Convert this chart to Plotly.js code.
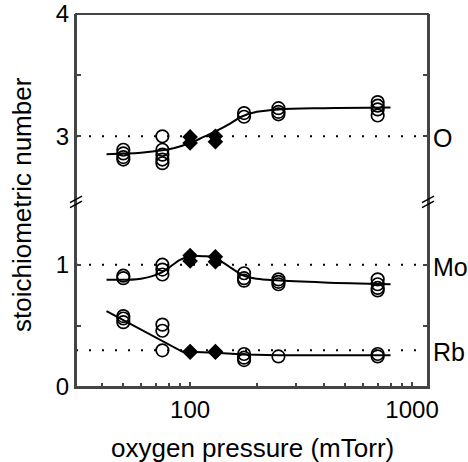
<!DOCTYPE html>
<html>
<head>
<meta charset="utf-8">
<script src="https://cdn.plot.ly/plotly-3.0.1.min.js"></script>
<style>html,body{margin:0;padding:0;background:#fff;}#chart{width:468px;height:462px;}</style>
</head>
<body>
<div id="chart"></div>
<script>
// ---- data ----
const xTickVals = [100, 1000];
const xTickText = ['100', '1000'];
const xMinorTicks = [40, 50, 60, 70, 80, 90, 200, 300, 400, 500, 600, 700, 800, 900];
const yLowTickVals = [0, 0.5, 1];
const yLowTickText = ['0', '', '1'];
const yHighTickVals = [3, 3.5, 4];
const yHighTickText = ['3', '', '4'];
const xLimits = [30.6, 1180];

const elementNames = ['O', 'Mo', 'Rb'];
const referenceLevels = [3, 1, 0.3];

// oxygen (O)
const oCircleX = [50, 50, 50, 50, 75, 75, 75, 75, 75, 175, 175, 250, 250, 250, 700, 700, 700, 700];
const oCircleY = [2.89, 2.86, 2.83, 2.81, 3.00, 2.89, 2.85, 2.81, 2.78, 3.19, 3.16, 3.23, 3.20, 3.18, 3.28, 3.25, 3.22, 3.17];
const diamondX = [100, 100, 130, 130];
const oDiamondY = [2.995, 2.945, 3.0, 2.955];
const oFitX = [42, 60, 75, 85, 100, 115, 130, 150, 170, 200, 250, 400, 800];
const oFitY = [2.853, 2.865, 2.885, 2.905, 2.945, 2.995, 3.04, 3.10, 3.16, 3.20, 3.22, 3.23, 3.235];

// molybdenum (Mo)
const moCircleX = [50, 50, 75, 75, 75, 175, 175, 175, 250, 250, 250, 700, 700, 700, 700];
const moCircleY = [0.91, 0.89, 1.00, 0.96, 0.92, 0.93, 0.89, 0.87, 0.88, 0.86, 0.84, 0.88, 0.84, 0.81, 0.79];
const moDiamondY = [1.075, 1.03, 1.065, 1.025];
const moFitX = [42, 60, 75, 90, 100, 115, 127, 150, 173, 200, 244, 400, 800];
const moFitY = [0.878, 0.886, 0.94, 1.04, 1.067, 1.07, 1.062, 0.985, 0.913, 0.885, 0.872, 0.855, 0.84];

// rubidium (Rb)
const rbCircleX = [50, 50, 50, 75, 75, 75, 175, 175, 175, 250, 700, 700];
const rbCircleY = [0.58, 0.56, 0.53, 0.51, 0.46, 0.30, 0.27, 0.24, 0.22, 0.25, 0.27, 0.25];
const rbDiamondY = [0.29, 0.285, 0.29, 0.285];
const rbFitX = [42, 92, 130, 175, 250, 800];
const rbFitY = [0.62, 0.29, 0.28, 0.265, 0.26, 0.26];

// ---- chart ----
const FONT = 'Liberation Sans, Arial, Helvetica, sans-serif';
const BLACK = '#000';
const FRAME = '#444';
const breakFrac = 1.5 / 3.05;
const levelAxes = ['y2', 'y', 'y'];

function circles(x, y, ya) {
  return {x: x, y: y, yaxis: ya, xaxis: 'x', type: 'scatter', mode: 'markers',
    marker: {symbol: 'circle-open', size: 12.5, color: BLACK, line: {width: 1.7, color: BLACK}}};
}
function diamonds(x, y, ya) {
  return {x: x, y: y, yaxis: ya, xaxis: 'x', type: 'scatter', mode: 'markers',
    marker: {symbol: 'diamond', size: 12, color: BLACK, line: {width: 0}}};
}
function fit(x, y, ya, shape) {
  return {x: x, y: y, yaxis: ya, xaxis: 'x', type: 'scatter', mode: 'lines',
    line: {color: BLACK, width: 2, shape: shape, smoothing: 1}};
}

const traces = referenceLevels.map((lv, i) => ({
  x: xLimits, y: [lv, lv], xaxis: 'x', yaxis: levelAxes[i], type: 'scatter', mode: 'lines',
  line: {color: BLACK, width: 2, dash: '2px,11px'}
})).concat([
  fit(oFitX, oFitY, 'y2', 'spline'),
  fit(moFitX, moFitY, 'y', 'spline'),
  fit(rbFitX, rbFitY, 'y', 'linear'),
  circles(oCircleX, oCircleY, 'y2'),
  circles(moCircleX, moCircleY, 'y'),
  circles(rbCircleX, rbCircleY, 'y'),
  diamonds(diamondX, oDiamondY, 'y2'),
  diamonds(diamondX, moDiamondY, 'y'),
  diamonds(diamondX, rbDiamondY, 'y')
]);

const xRange = [Math.log10(xLimits[0]), Math.log10(xLimits[1])];
function axisBase() {
  return {
    showgrid: false, zeroline: false, showline: true, linecolor: FRAME, linewidth: 2,
    ticks: 'inside', ticklen: 5, tickwidth: 2, tickcolor: FRAME,
    tickfont: {family: FONT, size: 24, color: BLACK}
  };
}
function minorX() {
  return {ticks: 'inside', ticklen: 4, tickwidth: 2, tickcolor: FRAME, tickmode: 'array', tickvals: xMinorTicks, showgrid: false};
}

const shapes = [];
// plot frame
shapes.push({type: 'rect', xref: 'paper', yref: 'paper', x0: 0, x1: 1, y0: 0, y1: 1,
  line: {color: FRAME, width: 2}, fillcolor: 'rgba(0,0,0,0)'});
// axis break marks
[0, 1].forEach(xa => {
  [[-6, -4, 6, 2.5], [-6, 1, 6, 7.5]].forEach(s => {
    shapes.push({type: 'line', xref: 'paper', xsizemode: 'pixel', xanchor: xa,
      yref: 'paper', ysizemode: 'pixel', yanchor: breakFrac,
      x0: s[0], y0: s[1], x1: s[2], y1: s[3], line: {color: BLACK, width: 1.5}});
  });
});

const annotations = elementNames.map((name, i) => ({
  text: name, xref: 'paper', x: 1, xanchor: 'left', xshift: 3,
  yref: levelAxes[i], y: referenceLevels[i], yanchor: 'middle', yshift: -2,
  showarrow: false, font: {family: FONT, size: 25, color: BLACK}
}));
annotations.push({
  text: 'stoichiometric number', xref: 'paper', x: 0, xanchor: 'center', xshift: -54,
  yref: 'paper', y: 0.488, yanchor: 'middle', textangle: -90, showarrow: false,
  font: {family: FONT, size: 26, color: BLACK}
});
annotations.push({
  text: 'oxygen pressure (mTorr)', xref: 'paper', x: 0.5, xanchor: 'center',
  yref: 'paper', y: 0, yanchor: 'middle', yshift: -61, showarrow: false,
  font: {family: FONT, size: 26, color: BLACK}
});

const layout = {
  width: 468, height: 462,
  margin: {l: 76, r: 40, t: 14, b: 75},
  showlegend: false,
  xaxis: Object.assign(axisBase(), {
    type: 'log', range: xRange, anchor: 'y',
    tickmode: 'array', tickvals: xTickVals, ticktext: xTickText,
    minor: minorX()
  }),
  xaxis2: Object.assign(axisBase(), {
    type: 'log', range: xRange, anchor: 'y2', overlaying: 'x', side: 'top',
    tickmode: 'array', tickvals: xTickVals, showticklabels: false,
    minor: minorX()
  }),
  yaxis: Object.assign(axisBase(), {
    domain: [0, breakFrac], range: [0, 1.5], anchor: 'x', mirror: 'ticks',
    tickmode: 'array', tickvals: yLowTickVals, ticktext: yLowTickText
  }),
  yaxis2: Object.assign(axisBase(), {
    domain: [breakFrac, 1], range: [2.45, 4], anchor: 'x', mirror: 'ticks',
    tickmode: 'array', tickvals: yHighTickVals, ticktext: yHighTickText
  }),
  shapes: shapes,
  annotations: annotations
};

Plotly.newPlot('chart', traces, layout, {staticPlot: true});
</script>
</body>
</html>
